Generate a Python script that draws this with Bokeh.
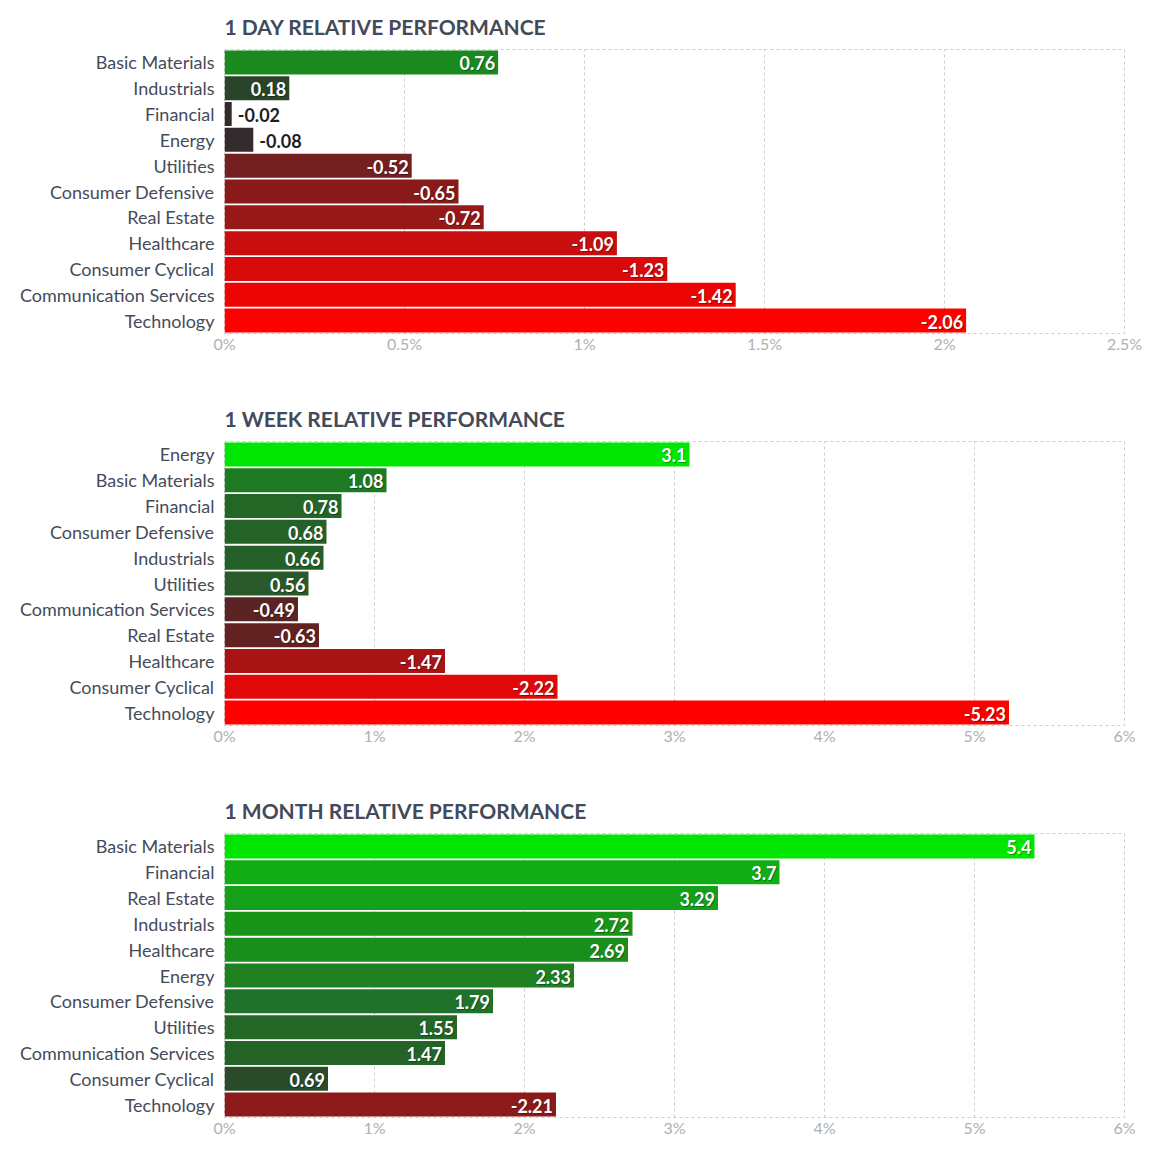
from bokeh.plotting import figure
from bokeh.models import (ColumnDataSource, FactorRange, Range1d, FixedTicker,
                          CustomJSTickFormatter)
from bokeh.layouts import column
from bokeh.embed import file_html
from bokeh.resources import INLINE
from bokeh.core.properties import value

# ---------------- data ----------------
day_title = "1 DAY RELATIVE PERFORMANCE"
day_sectors = ["Basic Materials", "Industrials", "Financial", "Energy", "Utilities",
               "Consumer Defensive", "Real Estate", "Healthcare", "Consumer Cyclical",
               "Communication Services", "Technology"]
day_values = [0.76, 0.18, -0.02, -0.08, -0.52, -0.65, -0.72, -1.09, -1.23, -1.42, -2.06]
day_ticks = [0, 0.5, 1, 1.5, 2, 2.5]
day_colors = ["#1a8a1e", "#2a4429", "#332a2c", "#352a2c", "#741f20", "#8a1a1a",
              "#961818", "#c80e0e", "#d80a0a", "#ec0505", "#ff0000"]

week_title = "1 WEEK RELATIVE PERFORMANCE"
week_sectors = ["Energy", "Basic Materials", "Financial", "Consumer Defensive", "Industrials",
                "Utilities", "Communication Services", "Real Estate", "Healthcare",
                "Consumer Cyclical", "Technology"]
week_values = [3.1, 1.08, 0.78, 0.68, 0.66, 0.56, -0.49, -0.63, -1.47, -2.22, -5.23]
week_ticks = [0, 1, 2, 3, 4, 5, 6]
week_colors = ["#00e600", "#1e7a22", "#236626", "#246228", "#246128", "#2a5a2a",
               "#5a2424", "#632222", "#a81414", "#e00808", "#ff0000"]

month_title = "1 MONTH RELATIVE PERFORMANCE"
month_sectors = ["Basic Materials", "Financial", "Real Estate", "Industrials", "Healthcare",
                 "Energy", "Consumer Defensive", "Utilities", "Communication Services",
                 "Consumer Cyclical", "Technology"]
month_values = [5.4, 3.7, 3.29, 2.72, 2.69, 2.33, 1.79, 1.55, 1.47, 0.69, -2.21]
month_ticks = [0, 1, 2, 3, 4, 5, 6]
month_colors = ["#00e600", "#10ad14", "#14a018", "#189418", "#1a8e1c", "#1e8020",
                "#20722a", "#236626", "#236426", "#2a4a2a", "#8c1a1a"]

FONT = "Lato"
FRAME_W = 900


def panel(title, sectors, values, ticks, colors, height, top, bottom):
    xmax = ticks[-1]
    lengths = [abs(v) for v in values]
    labels = [f"{v:g}" for v in values]
    inside = [l / xmax * FRAME_W > 45 for l in lengths]

    src = ColumnDataSource(dict(sector=sectors, length=lengths, color=colors))
    p = figure(y_range=FactorRange(*reversed(sectors)), x_range=Range1d(0, xmax),
               width=1152, height=height, output_backend="svg", toolbar_location=None,
               min_border_left=224, min_border_right=28, min_border_top=top,
               min_border_bottom=bottom, title=title)
    p.title.text_font = FONT
    p.title.text_font_size = "21px"
    p.title.text_font_style = "bold"
    p.title.text_color = "#434a59"
    p.title.align = "left"
    p.title.offset = 0
    p.title.standoff = 22

    p.hbar(y="sector", right="length", left=0, height=0.93, color="color",
           line_color=None, source=src)

    in_src = ColumnDataSource(dict(
        sector=[s for s, i in zip(sectors, inside) if i],
        x=[l for l, i in zip(lengths, inside) if i],
        label=[t for t, i in zip(labels, inside) if i]))
    out_src = ColumnDataSource(dict(
        sector=[s for s, i in zip(sectors, inside) if not i],
        x=[l for l, i in zip(lengths, inside) if not i],
        label=[t for t, i in zip(labels, inside) if not i]))

    common = dict(text="label", text_font=value(FONT), text_font_size="18px",
                  text_font_style="bold", text_baseline="middle")
    p.text(x="x", y="sector", source=in_src, text_align="right", x_offset=-2, y_offset=2,
           text_color="#000000", text_alpha=0.35, **common)
    p.text(x="x", y="sector", source=in_src, text_align="right", x_offset=-3, y_offset=1,
           text_color="#ffffff", **common)
    p.text(x="x", y="sector", source=out_src, text_align="left", x_offset=6, y_offset=1,
           text_color="#1e1e1e", **common)

    p.xaxis.ticker = FixedTicker(ticks=ticks)
    p.xaxis.formatter = CustomJSTickFormatter(code="return tick + '%';")
    p.xaxis.axis_line_color = None
    p.xaxis.major_tick_line_color = None
    p.xaxis.minor_tick_line_color = None
    p.xaxis.major_tick_out = 0
    p.xaxis.major_label_standoff = 0
    p.xaxis.major_label_text_font = FONT
    p.xaxis.major_label_text_font_size = "16px"
    p.xaxis.major_label_text_color = "#b0b0b0"

    p.yaxis.axis_line_color = None
    p.yaxis.major_tick_line_color = None
    p.yaxis.major_tick_out = 0
    p.yaxis.major_label_standoff = 10
    p.yaxis.major_label_text_font = FONT
    p.yaxis.major_label_text_font_size = "18px"
    p.yaxis.major_label_text_color = "#454b5a"

    p.ygrid.grid_line_color = None
    p.xgrid.grid_line_color = "#cccccc"
    p.xgrid.grid_line_dash = "3 3"
    p.xgrid.level = "underlay"
    p.outline_line_color = "#cccccc"
    p.outline_line_dash = "3 3"
    p.background_fill_color = "white"
    p.border_fill_color = "white"
    return p


p1 = panel(day_title, day_sectors, day_values, day_ticks, day_colors, 392, 49, 59)
p2 = panel(week_title, week_sectors, week_values, week_ticks, week_colors, 392, 49, 59)
p3 = panel(month_title, month_sectors, month_values, month_ticks, month_colors, 363, 49, 30)

layout = column(p1, p2, p3, spacing=0)
open("out.html", "w").write(file_html(layout, INLINE))
